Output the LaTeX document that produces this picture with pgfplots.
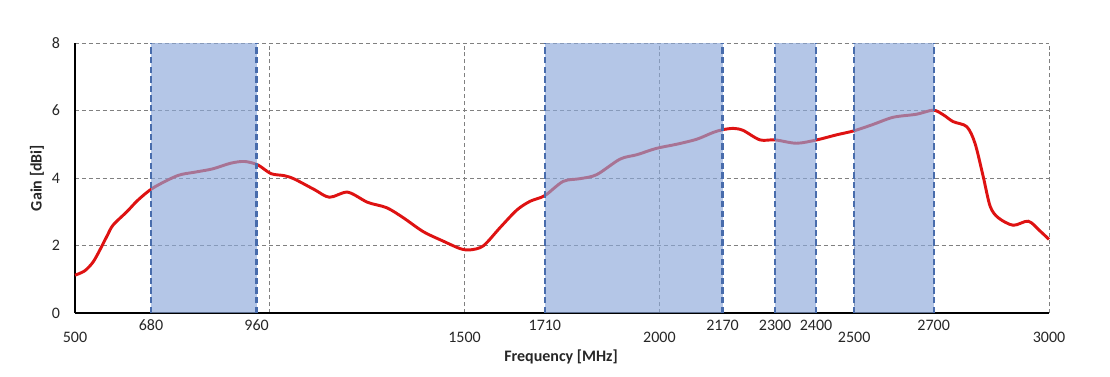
\documentclass[border=0pt]{standalone}
\usepackage{pgfplots}
\pgfplotsset{compat=1.18}
\usepackage{fontspec}
\setmainfont{Carlito}
\definecolor{curvered}{RGB}{222,18,18}
\definecolor{bandfill}{RGB}{140,168,218}
\definecolor{bandedge}{RGB}{72,108,172}
\definecolor{gridgray}{RGB}{128,128,128}
\begin{document}
\begin{tikzpicture}
\begin{axis}[
  at={(0,0)}, anchor=south west,
  scale only axis,
  width=730.5pt, height=202.5pt,
  xmin=500, xmax=3000, ymin=0, ymax=8,
  axis x line*=bottom, axis y line*=left,
  axis line style={black, line width=0.9pt, -},
  major tick length=0pt, minor tick length=0pt,
  ytick={0,2,4,6,8}, yticklabels={0,2,4,6,8},
  xtick={695,966,1706,2162,2297,2402,2704},
  xticklabels={680,960,1710,2170,2300,2400,2700},
  extra x ticks={500,1500,2000,2500,3000},
  extra x tick labels={500,1500,2000,2500,3000},
  extra x tick style={xmajorgrids=false, tick label style={yshift=-9pt}},
  minor xtick={1000,1500,2000,2500,3000},
  xminorgrids=true, xmajorgrids=false, ymajorgrids=true,
  minor grid style={gridgray, line width=0.6pt, dash pattern=on 3pt off 2.2pt},
  major grid style={gridgray, line width=0.6pt, dash pattern=on 3pt off 2.2pt},
  tick label style={font=\fontsize{12}{14}\selectfont, text=black!85},
  xticklabel style={inner sep=0pt, anchor=north, yshift=-5pt},
  yticklabel style={inner sep=0pt, anchor=east, xshift=-11pt},
  xlabel={\bfseries Frequency [MHz]},
  ylabel={\bfseries Gain [dBi]},
  label style={font=\fontsize{12}{14}\selectfont, text=black!85},
  xlabel style={at={(axis description cs:0.499,-0.163)}, anchor=center},
  ylabel style={at={(axis description cs:-0.039,0.5)}, anchor=center, rotate=0},
  clip=false,
]
\addplot[curvered, line width=2.2pt, smooth, tension=0.5] coordinates {
(500,1.12)(525,1.25)(547,1.52)(568,1.96)(583,2.30)(598,2.61)(633,3.00)(662,3.35)(701,3.71)(763,4.07)(806,4.17)(853,4.27)(900,4.44)(935,4.49)(969,4.39)(1003,4.13)(1037,4.07)(1063,3.97)(1114,3.66)(1153,3.43)(1200,3.58)(1251,3.28)(1300,3.12)(1343,2.82)(1394,2.41)(1445,2.13)(1488,1.91)(1514,1.87)(1548,1.99)(1591,2.53)(1634,3.05)(1668,3.31)(1706,3.48)(1753,3.90)(1796,3.98)(1839,4.10)(1899,4.56)(1942,4.69)(1993,4.88)(2044,5.00)(2096,5.15)(2138,5.35)(2162,5.43)(2190,5.47)(2215,5.41)(2258,5.13)(2297,5.13)(2352,5.03)(2404,5.13)(2455,5.28)(2500,5.40)(2549,5.59)(2600,5.80)(2660,5.89)(2703,6.01)(2729,5.87)(2754,5.67)(2789,5.52)(2810,5.03)(2831,4.05)(2849,3.16)(2870,2.82)(2908,2.60)(2947,2.72)(2977,2.43)(3000,2.18)
};
% frequency bands
\addplot[draw=none, fill=bandfill, fill opacity=0.65] coordinates {(695,0)(695,8)(966,8)(966,0)} -- cycle;
\addplot[draw=none, fill=bandfill, fill opacity=0.65] coordinates {(1706,0)(1706,8)(2162,8)(2162,0)} -- cycle;
\addplot[draw=none, fill=bandfill, fill opacity=0.65] coordinates {(2297,0)(2297,8)(2402,8)(2402,0)} -- cycle;
\addplot[draw=none, fill=bandfill, fill opacity=0.65] coordinates {(2500,0)(2500,8)(2704,8)(2704,0)} -- cycle;
\pgfplotsinvokeforeach{695,966,1706,2162,2297,2402,2500,2704}{
  \addplot[bandedge, line width=1.7pt, dash pattern=on 4.8pt off 2.4pt] coordinates {(#1,0)(#1,8)};
}
\end{axis}
\pgfresetboundingbox
\path[use as bounding box] (-56.25pt,-47.25pt) rectangle (776.25pt,234.75pt);
\end{tikzpicture}
\end{document}
